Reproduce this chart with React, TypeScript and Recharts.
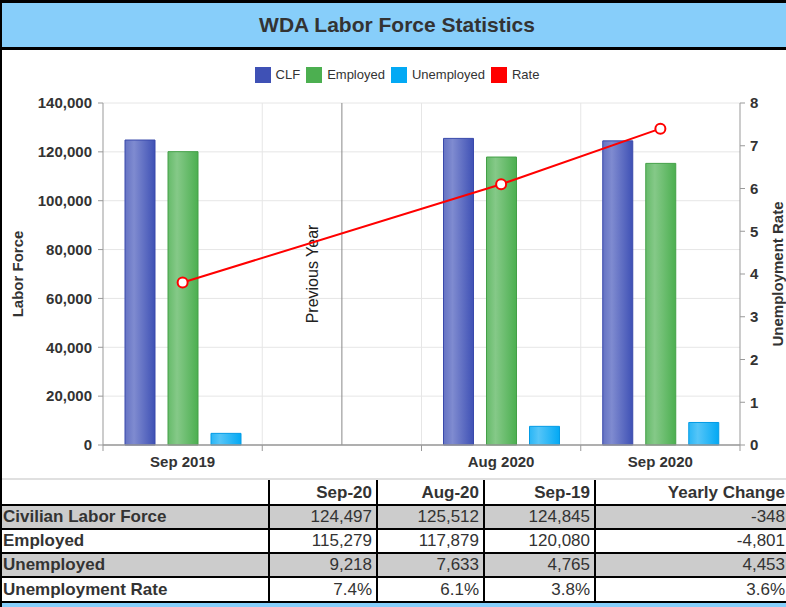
import React from 'react';
import { ComposedChart, Bar, Line, XAxis, YAxis, CartesianGrid, ReferenceLine, Label } from 'recharts';

const categories = ['Sep 2019', ' ', 'Aug 2020', 'Sep 2020'];
const clfValues = [124845, null, 125512, 124497];
const employedValues = [120080, null, 117879, 115279];
const unemployedValues = [4765, null, 7633, 9218];
const rateValues = [3.8, null, 6.1, 7.4];
const laborTicks = [0, 20000, 40000, 60000, 80000, 100000, 120000, 140000];
const rateTicks = [0, 1, 2, 3, 4, 5, 6, 7, 8];

const seriesNames = ['CLF', 'Employed', 'Unemployed', 'Rate'];
const seriesColors = ['#3F51B5', '#4CAF50', '#03A9F4', '#FF0000'];

const tableHeaders = ['Sep-20', 'Aug-20', 'Sep-19', 'Yearly Change'];
const tableRowLabels = ['Civilian Labor Force', 'Employed', 'Unemployed', 'Unemployment Rate'];
const tableSep20 = ['124,497', '115,279', '9,218', '7.4%'];
const tableAug20 = ['125,512', '117,879', '7,633', '6.1%'];
const tableSep19 = ['124,845', '120,080', '4,765', '3.8%'];
const tableYearly = ['-348', '-4,801', '4,453', '3.6%'];

const chartData = categories.map((name, i) => ({
  name,
  clf: clfValues[i],
  employed: employedValues[i],
  unemployed: unemployedValues[i],
  rate: rateValues[i],
}));

const FONT = '"Liberation Sans", Arial, Helvetica, sans-serif';
const TEXT = '#333333';

const XTick = (props: any) => {
  const { x, y, payload, width, visibleTicksCount, index } = props;
  const band = width && visibleTicksCount ? width / visibleTicksCount : 0;
  return (
    <g>
      {band ? <line x1={x - band / 2} x2={x - band / 2} y1={y} y2={y + 6} stroke="#999" strokeWidth={1} /> : null}
      {band && index === visibleTicksCount - 1 ? (
        <line x1={x + band / 2} x2={x + band / 2} y1={y} y2={y + 6} stroke="#999" strokeWidth={1} />
      ) : null}
      <text x={x} y={y + 22} textAnchor="middle" fill={TEXT} fontSize={15} fontWeight="bold" fontFamily={FONT}>
        {payload.value}
      </text>
    </g>
  );
};

const axisTitle = (text: string, dx: number) => (p: any) => {
  const vb = p.viewBox || { x: 0, y: 0, width: 0, height: 0 };
  const cx = vb.x + dx;
  const cy = vb.y + vb.height / 2;
  return (
    <text
      transform={`translate(${cx}, ${cy}) rotate(-90)`}
      textAnchor="middle"
      dominantBaseline="central"
      fill={TEXT}
      fontSize={15}
      fontWeight="bold"
      fontFamily={FONT}
    >
      {text}
    </text>
  );
};

const prevYearLabel = (p: any) => {
  const vb = p.viewBox || { x: 0, y: 0, width: 0, height: 0 };
  const cx = vb.x - 29;
  const cy = vb.y + vb.height / 2;
  return (
    <text
      transform={`translate(${cx}, ${cy}) rotate(-90)`}
      textAnchor="middle"
      dominantBaseline="central"
      fill="#222"
      fontSize={16}
      fontFamily={FONT}
    >
      Previous Year
    </text>
  );
};

const colLefts = [0, 269, 377, 484, 595];
const colRights = [269, 377, 484, 595, 796];
const rowTops = [480, 505, 529, 553, 577];
const rowBottoms = [505, 529, 553, 577, 602];

export default function App() {
  const bodyRows = tableRowLabels.map((label, i) => [label, tableSep20[i], tableAug20[i], tableSep19[i], tableYearly[i]]);
  const allRows = [['', ...tableHeaders], ...bodyRows];

  return (
    <div
      style={{
        position: 'absolute',
        left: 0,
        top: 0,
        width: 786,
        height: 607,
        overflow: 'hidden',
        background: '#fff',
        fontFamily: FONT,
      }}
    >
      {/* title band */}
      <div style={{ position: 'absolute', left: 0, top: 0, width: 800, height: 3, background: '#000' }} />
      <div
        style={{
          position: 'absolute',
          left: 0,
          top: 3,
          width: 794,
          height: 44,
          background: '#87CEFA',
          color: TEXT,
          fontSize: 21,
          fontWeight: 'bold',
          textAlign: 'center',
          lineHeight: '44px',
        }}
      >
        WDA Labor Force Statistics
      </div>
      <div style={{ position: 'absolute', left: 0, top: 47, width: 800, height: 3, background: '#000' }} />

      {/* legend */}
      <div
        style={{
          position: 'absolute',
          left: 0,
          top: 66,
          width: 794,
          height: 17,
          display: 'flex',
          justifyContent: 'center',
          alignItems: 'center',
          fontSize: 13,
          color: TEXT,
        }}
      >
        {seriesNames.map((n, i) => (
          <div key={n} style={{ display: 'flex', alignItems: 'center', marginRight: i < seriesNames.length - 1 ? 6 : 0 }}>
            <div style={{ width: 16, height: 16, background: seriesColors[i], marginRight: 5 }} />
            <span>{n}</span>
          </div>
        ))}
      </div>

      {/* chart */}
      <div style={{ position: 'absolute', left: 0, top: 50 }}>
        <ComposedChart
          width={786}
          height={429}
          data={chartData}
          margin={{ top: 53, right: 0, bottom: 0, left: 0 }}
          barGap={13}
        >
          <defs>
            <linearGradient id="gClf" x1="0" y1="0" x2="1" y2="0">
              <stop offset="0%" stopColor="#6573c3" />
              <stop offset="30%" stopColor="#7f8bd0" />
              <stop offset="100%" stopColor="#3f51b5" />
            </linearGradient>
            <linearGradient id="gEmp" x1="0" y1="0" x2="1" y2="0">
              <stop offset="0%" stopColor="#66bb6a" />
              <stop offset="30%" stopColor="#85c988" />
              <stop offset="100%" stopColor="#4caf50" />
            </linearGradient>
            <linearGradient id="gUnemp" x1="0" y1="0" x2="1" y2="0">
              <stop offset="0%" stopColor="#29b6f6" />
              <stop offset="30%" stopColor="#55c5f8" />
              <stop offset="100%" stopColor="#03a9f4" />
            </linearGradient>
          </defs>
          <CartesianGrid
            yAxisId="left"
            stroke="#e6e6e6"
            strokeWidth={1}
            vertical={true}
            horizontal={true}
            verticalCoordinatesGenerator={({ offset }: any) =>
              categories.slice(1).map((_, i) => offset.left + (offset.width * (i + 1)) / categories.length)
            }
          />
          <XAxis
            dataKey="name"
            axisLine={{ stroke: '#999', strokeWidth: 1.5 }}
            tickLine={false}
            tickSize={0}
            tickMargin={0}
            height={34}
            interval={0}
            tick={<XTick />}
          />
          <YAxis
            yAxisId="left"
            orientation="left"
            width={103}
            domain={[0, 140000]}
            ticks={laborTicks}
            interval={0}
            axisLine={{ stroke: '#999' }}
            tickLine={{ stroke: '#999' }}
            tickSize={5}
            tickMargin={6}
            tick={{ fill: TEXT, fontSize: 15, fontWeight: 'bold', fontFamily: FONT }}
            tickFormatter={(v: number) => v.toLocaleString('en-US')}
          >
            <Label content={axisTitle('Labor Force', 17)} />
          </YAxis>
          <YAxis
            yAxisId="right"
            orientation="right"
            width={46}
            domain={[0, 8]}
            ticks={rateTicks}
            interval={0}
            axisLine={{ stroke: '#999' }}
            tickLine={{ stroke: '#999' }}
            tickSize={5}
            tickMargin={5}
            tick={{ fill: TEXT, fontSize: 15, fontWeight: 'bold', fontFamily: FONT }}
          >
            <Label content={axisTitle('Unemployment Rate', 37)} />
          </YAxis>
          <ReferenceLine yAxisId="left" x={categories[1]} stroke="#888" strokeWidth={1} label={prevYearLabel} />
          <Bar yAxisId="left" dataKey="clf" name="CLF" fill="url(#gClf)" stroke="#3949ab" strokeWidth={1} barSize={30} isAnimationActive={false} />
          <Bar yAxisId="left" dataKey="employed" name="Employed" fill="url(#gEmp)" stroke="#43a047" strokeWidth={1} barSize={30} isAnimationActive={false} />
          <Bar yAxisId="left" dataKey="unemployed" name="Unemployed" fill="url(#gUnemp)" stroke="#039be5" strokeWidth={1} barSize={30} isAnimationActive={false} />
          <Line
            yAxisId="right"
            type="linear"
            dataKey="rate"
            name="Rate"
            stroke="#FF0000"
            strokeWidth={2}
            connectNulls
            dot={{ r: 5, fill: '#fff', stroke: '#FF0000', strokeWidth: 2 }}
            activeDot={false}
            isAnimationActive={false}
          />
        </ComposedChart>
      </div>

      {/* table */}
      <div style={{ position: 'absolute', left: 0, top: 478, width: 800, height: 2, background: '#e0e0e0' }} />
      {allRows.map((row, r) =>
        row.map((cell, c) => (
          <div
            key={`${r}-${c}`}
            style={{
              position: 'absolute',
              left: colLefts[c],
              top: rowTops[r],
              width: colRights[c] - colLefts[c],
              height: rowBottoms[r] - rowTops[r],
              background: r === 1 || r === 3 ? '#cccccc' : '#ffffff',
              boxSizing: 'border-box',
              fontSize: 17,
              fontWeight: r === 0 || c === 0 ? 'bold' : 'normal',
              color: TEXT,
              textAlign: c === 0 ? 'left' : 'right',
              paddingLeft: c === 0 ? 3 : 0,
              paddingRight: c === 0 ? 0 : c === 4 ? 11 : 5,
              lineHeight: `${rowBottoms[r] - rowTops[r]}px`,
              whiteSpace: 'nowrap',
            }}
          >
            {cell}
          </div>
        ))
      )}
      {/* table grid lines */}
      {colLefts.slice(1).map((x) => (
        <div key={`v${x}`} style={{ position: 'absolute', left: x - 1, top: 480, width: 2, height: 123, background: '#000' }} />
      ))}
      {rowTops.slice(1).map((y) => (
        <div key={`h${y}`} style={{ position: 'absolute', left: 0, top: y - 1, width: 800, height: 2, background: '#000' }} />
      ))}
      <div style={{ position: 'absolute', left: 0, top: 601, width: 800, height: 2, background: '#000' }} />
      <div style={{ position: 'absolute', left: 0, top: 603, width: 800, height: 4, background: '#87CEFA' }} />
      {/* left border */}
      <div style={{ position: 'absolute', left: 0, top: 0, width: 2, height: 607, background: '#000' }} />
    </div>
  );
}
